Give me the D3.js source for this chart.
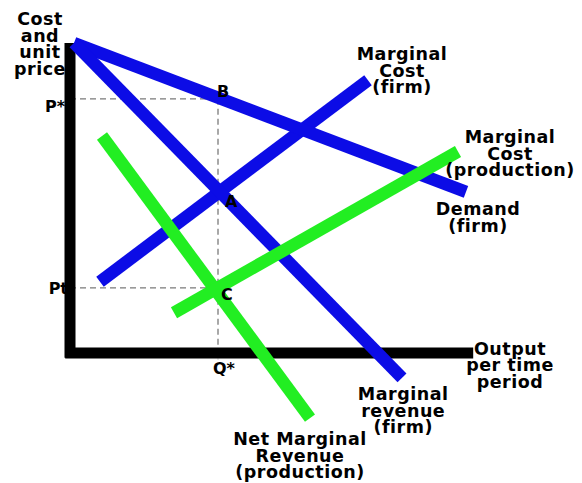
<!DOCTYPE html>
<html>
<head>
<meta charset="utf-8">
<script src="https://cdn.jsdelivr.net/npm/d3@7"></script>
<style>
	body { margin: 0; background: #fff; }
	text { font-family: "DejaVu Sans", Arial, sans-serif; font-weight: bold; fill: #000; }
</style>
</head>
<body>
<script>
//Curves, as [start, end] points in chart units (output, price)
var demandFirm = [[0.1, 10.0], [9.9, 5.2]];
var mrFirm = [[0.1, 10.0], [8.3, -0.8]];
var mcFirm = [[0.75, 2.3], [7.45, 8.8]];
var mcProduction = [[2.6, 1.3], [9.7, 6.5]];
var nmrProduction = [[0.8, 7.0], [6.0, -2.1]];

//Equilibrium values
var qStar = 3.7;
var pStar = 8.2;
var pt = 2.1;

//Curve labels: [x, y] anchor in chart units plus lines of text
var curveLabels = [
	{at: [8.3, 9.45], lines: ["Marginal", "Cost", "(firm)"]},
	{at: [11.0, 6.77], lines: ["Marginal", "Cost", "(production)"]},
	{at: [10.2, 4.45], lines: ["Demand", "(firm)"]},
	{at: [11.0, -0.06], lines: ["Output", "per time", "period"]},
	{at: [8.33, -1.52], lines: ["Marginal", "revenue", "(firm)"]},
	{at: [5.75, -2.97], lines: ["Net Marginal", "Revenue", "(production)"]},
	{at: [-0.75, 10.58], lines: ["Cost", "and", "unit", "price"]}
];

var width = 582, height = 483;
var svg = d3.select('body').append('svg')
	.attr('width', width)
	.attr('height', height);

var x = d3.scaleLinear().domain([0, 10]).range([70, 470]);
var y = d3.scaleLinear().domain([0, 10]).range([353, 43]);

var line = d3.line()
	.x(function(d) { return x(d[0]); })
	.y(function(d) { return y(d[1]); });

//Dashed guides
var guides = svg.append('g')
	.attr('stroke', '#7a7a7a')
	.attr('stroke-width', 1.3)
	.attr('stroke-dasharray', '6,4')
	.attr('fill', 'none');
guides.append('path').attr('d', line([[0, pStar], [qStar, pStar]]));
guides.append('path').attr('d', line([[0, pt], [qStar, pt]]));
guides.append('path').attr('d', line([[qStar, pStar], [qStar, -0.2]]));

//Axes
var axes = svg.append('g').attr('stroke', '#000').attr('stroke-width', 11);
axes.append('path').attr('d', line([[0, 10], [0, -0.15]]));
axes.append('path').attr('d', line([[-0.12, 0], [10.08, 0]]));

//Curves
var curves = [
	{data: mcFirm, color: '#0c0ce6'},
	{data: demandFirm, color: '#0c0ce6'},
	{data: mrFirm, color: '#0c0ce6'},
	{data: nmrProduction, color: '#22ee22'},
	{data: mcProduction, color: '#22ee22'}
];
svg.append('g').selectAll('path')
	.data(curves)
	.enter().append('path')
		.attr('d', function(d) { return line(d.data); })
		.attr('stroke', function(d) { return d.color; })
		.attr('stroke-width', 12.5)
		.attr('fill', 'none');

//Point letters
var letters = [
	{t: 'B', at: [qStar, pStar], dx: -1, dy: -2, anchor: 'start'},
	{t: 'A', at: [qStar, 5.2], dx: 7, dy: 15, anchor: 'start'},
	{t: 'C', at: [qStar, pt], dx: 3, dy: 12, anchor: 'start'},
	{t: 'Q*', at: [qStar, 0], dx: 6, dy: 21, anchor: 'middle'},
	{t: 'P*', at: [0, pStar], dx: -5, dy: 13, anchor: 'end'},
	{t: 'Pt', at: [0, pt], dx: -2, dy: 6, anchor: 'end'}
];
svg.append('g').selectAll('text')
	.data(letters)
	.enter().append('text')
		.attr('x', function(d) { return x(d.at[0]) + d.dx; })
		.attr('y', function(d) { return y(d.at[1]) + d.dy; })
		.attr('text-anchor', function(d) { return d.anchor; })
		.style('font-size', '16px')
		.text(function(d) { return d.t; });

//Curve labels
var labels = svg.append('g').selectAll('text')
	.data(curveLabels)
	.enter().append('text')
		.attr('text-anchor', 'middle')
		.style('font-size', '17.5px')
		.style('letter-spacing', '0.5px')
		.attr('x', function(d) { return x(d.at[0]); })
		.attr('y', function(d) { return y(d.at[1]); });
labels.selectAll('tspan')
	.data(function(d) { return d.lines.map(function(l) { return {l: l, x: x(d.at[0])}; }); })
	.enter().append('tspan')
		.attr('x', function(d) { return d.x; })
		.attr('dy', function(d, i) { return i ? 16.5 : 0; })
		.text(function(d) { return d.l; });
</script>
</body>
</html>
